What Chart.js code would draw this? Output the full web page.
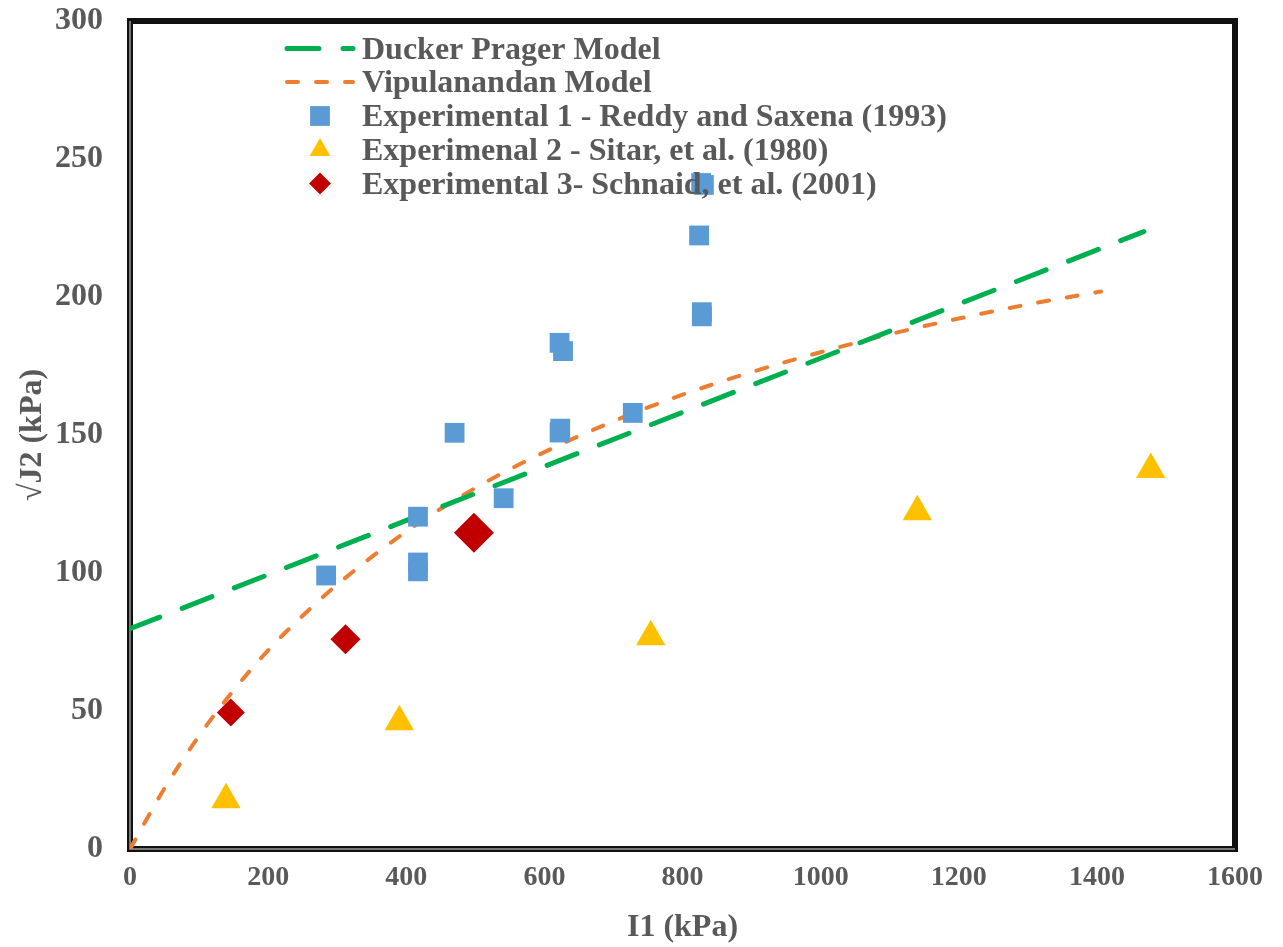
<!DOCTYPE html>
<html>
<head>
<meta charset="utf-8">
<title>Ducker Prager vs Vipulanandan Model</title>
<script src="https://cdn.jsdelivr.net/npm/chart.js@4.4.1/dist/chart.umd.min.js"></script>
<style>
  html, body { margin: 0; padding: 0; background: #fff; }
  canvas { display: block; }
</style>
</head>
<body>
<canvas id="chart" width="1283" height="947"></canvas>
<script>
// I1 (kPa) on x, sqrt(J2) (kPa) on y
const xTicks = [0, 200, 400, 600, 800, 1000, 1200, 1400, 1600];
const yTicks = [0, 50, 100, 150, 200, 250, 300];

const seriesNames = [
  "Ducker Prager Model",
  "Vipulanandan Model",
  "Experimental 1 - Reddy and Saxena (1993)",
  "Experimenal 2 - Sitar, et al. (1980)",
  "Experimental 3- Schnaid, et al. (2001)"
];

// model lines
const duckerX = [0, 1468];
const duckerY = [79.8, 223.7];

const vipX = [0, 50, 100, 150, 200, 250, 300, 400, 500, 600, 700, 800, 900, 1000, 1100, 1200, 1300, 1406];
const vipY = [0, 22, 41, 57.5, 72, 84.5, 95.8, 115, 130.8, 143.8, 155, 164.6, 172.8, 180, 186.5, 192.2, 197.3, 202];

// experimental points
const exp1X = [284, 417, 417, 417, 470, 541, 622, 627, 623, 622, 728, 824, 828, 828, 827, 831];
const exp1Y = [99.1, 120.4, 100.6, 103.8, 150.8, 127.1, 183.4, 180.4, 152.3, 150.9, 158.0, 222.3, 194.5, 193.0, 241.3, 240.6];

const exp2X = [139, 390, 754, 1140, 1478];
const exp2Y = [17.8, 46.1, 76.9, 122.2, 137.5];

const exp3X = [146, 312, 498];
const exp3Y = [49.5, 76, 114.6];

const toPoints = (xs, ys) => xs.map((x, i) => ({ x: x, y: ys[i] }));

const SERIF = "'Liberation Serif', 'Times New Roman', serif";
const GREY = "#595959";

const GREEN = "#00B050";
const ORANGE = "#ED7D31";
const BLUE = "#5B9BD5";
const YELLOW = "#FFC000";
const RED = "#C00000";

// plot frame (under the data)
const framePlugin = {
  id: "frame",
  beforeDatasetsDraw(chart) {
    const { ctx, chartArea: a } = chart;
    ctx.save();
    ctx.strokeStyle = "#111";
    ctx.lineWidth = 6;
    ctx.strokeRect(a.left, a.top, a.right - a.left, a.bottom - a.top);
    ctx.strokeStyle = "#9a9a9a";
    ctx.lineWidth = 1.5;
    ctx.beginPath();
    ctx.moveTo(a.left, a.top);
    ctx.lineTo(a.left, a.bottom);
    ctx.lineTo(a.right, a.bottom);
    ctx.stroke();
    ctx.restore();
  }
};

// legend drawn inside the plot area
const legendPlugin = {
  id: "insideLegend",
  afterDatasetsDraw(chart) {
    const ctx = chart.ctx;
    const x0 = 287, x1 = 353, mx = 320, tx = 362;
    const rows = [48.5, 82, 116, 150, 183.5];
    ctx.save();
    chart.data.datasets.forEach((ds, i) => {
      const y = rows[i];
      if (ds.showLine) {
        ctx.strokeStyle = ds.borderColor;
        ctx.lineWidth = ds.borderWidth;
        ctx.lineCap = "round";
        ctx.setLineDash(ds.borderDash);
        ctx.beginPath();
        ctx.moveTo(x0, y);
        ctx.lineTo(x1, y);
        ctx.stroke();
        ctx.setLineDash([]);
      } else {
        ctx.fillStyle = ds.backgroundColor;
        Chart.helpers.drawPoint(ctx, {
          pointStyle: ds.pointStyle,
          radius: ds.legendRadius,
          rotation: 0,
          borderWidth: 0
        }, mx, y);
      }
      ctx.fillStyle = GREY;
      ctx.font = "bold 32px " + SERIF;
      ctx.textBaseline = "alphabetic";
      ctx.textAlign = "left";
      ctx.fillText(ds.label, tx, y + 10);
    });
    ctx.restore();
  }
};

new Chart(document.getElementById("chart"), {
  type: "scatter",
  data: {
    datasets: [
      {
        label: seriesNames[0],
        data: toPoints(duckerX, duckerY),
        showLine: true,
        borderColor: GREEN,
        borderWidth: 5,
        borderDash: [32, 24],
        borderCapStyle: "round",
        pointRadius: 0,
        order: 1
      },
      {
        label: seriesNames[1],
        data: toPoints(vipX, vipY),
        showLine: true,
        borderColor: ORANGE,
        borderWidth: 4,
        borderDash: [11, 18],
        borderCapStyle: "round",
        cubicInterpolationMode: "monotone",
        pointRadius: 0,
        order: 1
      },
      {
        label: seriesNames[2],
        data: toPoints(exp1X, exp1Y),
        pointStyle: "rect",
        pointRadius: 14,
        legendRadius: 14,
        backgroundColor: BLUE,
        borderWidth: 0,
        pointBorderWidth: 0,
        order: 0
      },
      {
        label: seriesNames[3],
        data: toPoints(exp2X, exp2Y),
        pointStyle: "triangle",
        pointRadius: 17,
        legendRadius: 12,
        backgroundColor: YELLOW,
        borderWidth: 0,
        pointBorderWidth: 0,
        order: 0
      },
      {
        label: seriesNames[4],
        data: toPoints(exp3X, exp3Y),
        pointStyle: "rectRot",
        pointRadius: [14, 15, 20],
        legendRadius: 11,
        backgroundColor: RED,
        borderWidth: 0,
        pointBorderWidth: 0,
        order: 0
      }
    ]
  },
  options: {
    responsive: false,
    animation: false,
    layout: { padding: { left: 0, top: 21, right: 48, bottom: 0 } },
    plugins: {
      legend: { display: false },
      tooltip: { enabled: false }
    },
    scales: {
      x: {
        type: "linear",
        min: 0,
        max: 1600,
        afterBuildTicks: (s) => { s.ticks = xTicks.map((v) => ({ value: v })); },
        afterFit: (s) => {
          s.height = 98;
          s.paddingLeft = 0;
          s.paddingRight = 0;
        },
        grid: { display: false, drawTicks: false },
        border: { display: false },
        ticks: {
          color: GREY,
          padding: 12,
          maxRotation: 0,
          callback: (v) => String(v),
          font: { family: SERIF, size: 28, weight: "bold" }
        },
        title: {
          display: true,
          text: "I1 (kPa)",
          color: GREY,
          padding: 0,
          font: { family: SERIF, size: 32, weight: "bold" }
        }
      },
      y: {
        type: "linear",
        min: 0,
        max: 300,
        afterBuildTicks: (s) => { s.ticks = yTicks.map((v) => ({ value: v })); },
        afterFit: (s) => {
          s.width = 130;
          s.paddingTop = 0;
          s.paddingBottom = 0;
        },
        grid: { display: false, drawTicks: false },
        border: { display: false },
        ticks: {
          color: GREY,
          padding: 27,
          callback: (v) => String(v),
          font: { family: SERIF, size: 32, weight: "bold" }
        },
        title: {
          display: true,
          text: "\u221AJ2 (kPa)",
          color: GREY,
          padding: { top: 14, bottom: 0 },
          font: { family: SERIF, size: 32, weight: "bold" }
        }
      }
    }
  },
  plugins: [framePlugin, legendPlugin]
});
</script>
</body>
</html>
